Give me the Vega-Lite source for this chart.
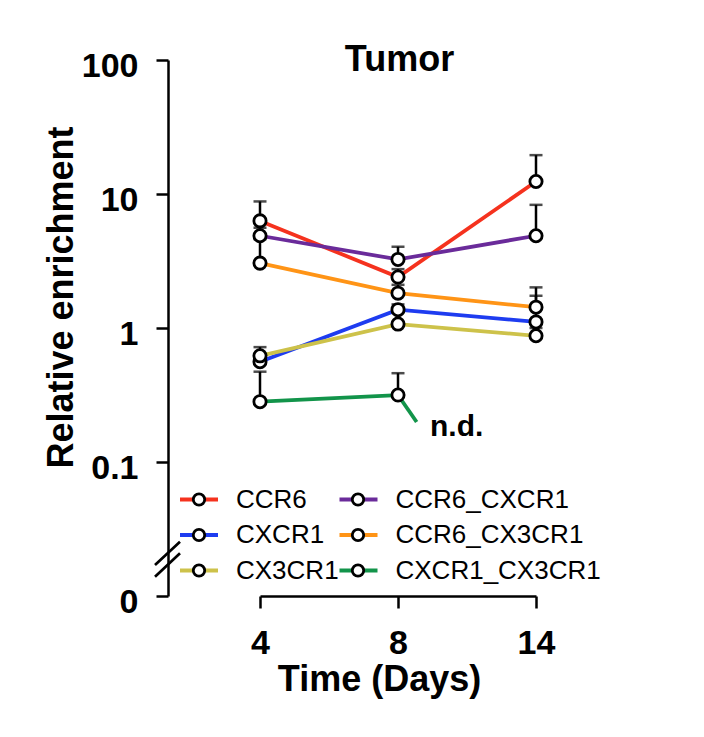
{
  "$schema": "https://vega.github.io/schema/vega-lite/v6.json",
  "width": 473,
  "height": 536,
  "autosize": "none",
  "padding": {"left": 155, "top": 60, "right": 76, "bottom": 141},
  "title": {
    "text": "Tumor",
    "fontSize": 36,
    "fontWeight": "bold",
    "anchor": "middle",
    "dx": 8,
    "baseline": "alphabetic",
    "offset": -58,
    "color": "black"
  },
  "data": {
    "values": [
      {"series": "CCR6", "day": 4, "value": 6.3, "upper": 8.8},
      {"series": "CCR6", "day": 8, "value": 2.4, "upper": 2.75},
      {"series": "CCR6", "day": 14, "value": 12.4, "upper": 19.5},
      {"series": "CXCR1", "day": 4, "value": 0.56, "upper": 0.62},
      {"series": "CXCR1", "day": 8, "value": 1.37, "upper": 1.5},
      {"series": "CXCR1", "day": 14, "value": 1.11, "upper": 1.74},
      {"series": "CX3CR1", "day": 4, "value": 0.62, "upper": 0.72},
      {"series": "CX3CR1", "day": 8, "value": 1.07, "upper": 1.41},
      {"series": "CX3CR1", "day": 14, "value": 0.875, "upper": 1.0},
      {"series": "CCR6_CXCR1", "day": 4, "value": 4.88, "upper": 5.6},
      {"series": "CCR6_CXCR1", "day": 8, "value": 3.25, "upper": 4.04},
      {"series": "CCR6_CXCR1", "day": 14, "value": 4.88, "upper": 8.3},
      {"series": "CCR6_CX3CR1", "day": 4, "value": 3.05, "upper": 4.6},
      {"series": "CCR6_CX3CR1", "day": 8, "value": 1.82, "upper": 2.1},
      {"series": "CCR6_CX3CR1", "day": 14, "value": 1.43, "upper": 2.01},
      {"series": "CXCR1_CX3CR1", "day": 4, "value": 0.282, "upper": 0.472},
      {"series": "CXCR1_CX3CR1", "day": 8, "value": 0.316, "upper": 0.46}
    ]
  },
  "resolve": {"scale": {"x": "independent"}},
  "layer": [
    {
      "encoding": {
        "x": {
          "field": "day",
          "type": "ordinal",
          "scale": {"type": "point", "domain": [4, 8, 14], "range": [105, 381], "padding": 0},
          "axis": {
            "title": "Time (Days)",
            "labelAngle": 0,
            "labelFontSize": 34,
            "labelFontWeight": "bold",
            "labelPadding": 18,
            "tickSize": 12,
            "tickWidth": 2.5,
            "domainWidth": 2.5,
            "titleFontSize": 36,
            "titleFontWeight": "bold",
            "titleX": 224,
            "titleY": 94,
            "titleBaseline": "alphabetic",
            "titleAnchor": null,
            "titleAlign": "center"
          }
        }
      },
      "layer": [
        {
          "mark": {"type": "rule", "color": "black", "strokeWidth": 2.5},
          "encoding": {
            "y": {
              "field": "value",
              "type": "quantitative",
              "title": "Relative enrichment",
              "scale": {"type": "log", "domain": [0.01, 100]},
              "axis": {
                "values": [0.01, 0.1, 1, 10, 100],
                "labelExpr": "datum.value < 0.05 ? '0' : format(datum.value, '~g')",
                "offset": -13,
                "grid": false,
                "labelFontSize": 34,
                "labelFontWeight": "bold",
                "labelPadding": 18,
                "labelOffset": 6,
                "tickSize": 12,
                "tickWidth": 2.5,
                "domainWidth": 2.5,
                "titleFontSize": 36,
                "titleFontWeight": "bold",
                "titleX": -96,
                "titleY": 237,
                "titleBaseline": "alphabetic",
                "titleAnchor": null,
                "titleAlign": "center"
              }
            },
            "y2": {"field": "upper"}
          }
        },
        {
          "mark": {"type": "tick", "color": "black", "thickness": 2.5, "size": 13},
          "encoding": {
            "y": {"field": "upper", "type": "quantitative", "title": "Relative enrichment"}
          }
        },
        {
          "mark": {"type": "line", "strokeWidth": 3.8},
          "encoding": {
            "y": {"field": "value", "type": "quantitative", "title": "Relative enrichment"},
            "color": {
              "field": "series",
              "type": "nominal",
              "scale": {
                "domain": ["CCR6", "CXCR1", "CX3CR1", "CCR6_CXCR1", "CCR6_CX3CR1", "CXCR1_CX3CR1"],
                "range": ["#f5321e", "#1e3cf0", "#cdc24a", "#6a2b9a", "#ff9416", "#12944a"]
              },
              "legend": {
                "title": null,
                "orient": "none",
                "legendX": 31,
                "legendY": 426.5,
                "columns": 2,
                "symbolType": "M-2,0L2,0",
                "symbolSize": 361,
                "symbolStrokeWidth": 3.8,
                "labelFontSize": 26,
                "labelFont": "Liberation Sans",
                "labelColor": "black",
                "labelLimit": 400,
                "labelOffset": 24,
                "columnPadding": -7.5,
                "rowPadding": 9.5,
                "padding": 0
              }
            }
          }
        },
        {
          "transform": [{"filter": "datum.series === 'CXCR1_CX3CR1' && datum.day === 8"}],
          "mark": {
            "type": "point",
            "shape": "M0,0L0.69,1",
            "size": 2916,
            "filled": false,
            "stroke": "#12944a",
            "strokeWidth": 3.8,
            "opacity": 1
          },
          "encoding": {
            "y": {"field": "value", "type": "quantitative", "title": "Relative enrichment"}
          }
        },
        {
          "mark": {
            "type": "point",
            "shape": "circle",
            "filled": false,
            "fill": "white",
            "strokeWidth": 2.8,
            "size": 150,
            "opacity": 1
          },
          "encoding": {
            "y": {"field": "value", "type": "quantitative", "title": "Relative enrichment"},
            "stroke": {
              "field": "series",
              "type": "nominal",
              "scale": {
                "domain": ["CXCR1", "CCR6", "CX3CR1", "CCR6_CXCR1", "CCR6_CX3CR1", "CXCR1_CX3CR1"],
                "range": ["black"]
              },
              "legend": {
                "title": null,
                "orient": "none",
                "legendX": 31,
                "legendY": 426.5,
                "columns": 2,
                "symbolType": "circle",
                "symbolSize": 130,
                "symbolStrokeWidth": 2.8,
                "symbolFillColor": "white",
                "labelExpr": "' '",
                "labelFontSize": 26,
                "labelFont": "Liberation Sans",
                "labelLimit": 400,
                "labelOffset": 24,
                "columnPadding": 109,
                "rowPadding": 9.5,
                "padding": 0,
                "zindex": 1
              }
            }
          }
        },
        {
          "transform": [{"filter": "datum.series === 'CXCR1_CX3CR1' && datum.day === 8"}],
          "mark": {
            "type": "text",
            "text": "n.d.",
            "align": "left",
            "baseline": "alphabetic",
            "dx": 32,
            "dy": 41,
            "fontSize": 30,
            "fontWeight": "bold",
            "color": "black"
          },
          "encoding": {
            "y": {"field": "value", "type": "quantitative", "title": "Relative enrichment"}
          }
        }
      ]
    },
    {
      "data": {"values": [{"item": "axis break"}]},
      "mark": {
        "type": "point",
        "shape": "M0,0.715L1.923,-1.077M0,1.615L1.923,-0.185",
        "size": 676,
        "filled": false,
        "stroke": "black",
        "strokeWidth": 2.7,
        "opacity": 1
      },
      "encoding": {
        "x": {"datum": 0, "type": "quantitative", "scale": {"domain": [0, 1]}, "axis": null},
        "y": {"datum": 0.02, "type": "quantitative"}
      }
    }
  ],
  "config": {
    "font": "Liberation Sans",
    "view": {"stroke": null},
    "axis": {
      "domainColor": "black",
      "tickColor": "black",
      "labelColor": "black",
      "titleColor": "black",
      "grid": false
    }
  }
}
